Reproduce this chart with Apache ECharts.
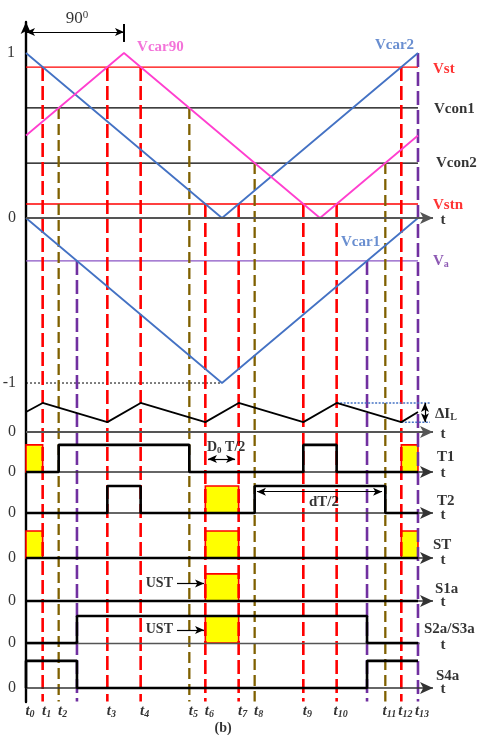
<!DOCTYPE html>
<html>
<head>
<meta charset="utf-8">
<script src="https://cdn.jsdelivr.net/npm/echarts@6/dist/echarts.min.js"></script>
<style>
  html, body { margin: 0; padding: 0; background: #fff; }
  #chart { width: 477px; height: 735px; }
</style>
</head>
<body>
<div id="chart"></div>
<script>
// ---- switching instants, in degrees of one carrier period ----
const tNames    = ['0','1','2','3','4','5','6','7','8','9','10','11','12','13'];
const tInstants = [0, 15.3, 30, 74.7, 105.3, 150, 164.7, 195.3, 210, 254.7, 285.3, 330, 344.7, 360];
const vaCross   = [46.8, 313.2];          // Vcar1 crossing the reference Va

// ---- carriers: [angle, value] vertices ----
const vcar2  = [[0, 1], [180, 0], [360, 1]];
const vcar90 = [[0, 0.5], [90, 1], [270, 0], [360, 0.5]];
const vcar1  = [[0, 0], [180, -1], [360, 0]];

// ---- reference levels ----
const vst = 0.915, vcon1 = 0.667, vcon2 = 0.333, vstn = 0.085, va = -0.26;

// ---- inductor current (per unit of its ripple peak) ----
const ilAngles = [0, 15.3, 74.7, 105.3, 164.7, 195.3, 254.7, 285.3, 344.7, 360];
const ilValues = [0.69, 1, 0.34, 1, 0.34, 1, 0.34, 1, 0.34, 0.69];

// ---- gate signals: on-intervals and shoot-through intervals ----
const T1on  = [[30, 150], [254.7, 285.3]];
const T1st  = [[0, 15.3], [344.7, 360]];
const T2on  = [[74.7, 105.3], [210, 330]];
const T2st  = [[164.7, 195.3]];
const STst  = [[0, 15.3], [164.7, 195.3], [344.7, 360]];
const S1on  = [];
const S1st  = [[164.7, 195.3]];
const S2on  = [[46.8, 313.2]];
const S2st  = [[164.7, 195.3]];
const S4on  = [[0, 46.8], [313.2, 360]];

// ---- panel layout (vertical offset and height, in carrier units) ----
const P = {
  il: { base: -1.297, h: 0.176 },
  T1: { base: -1.539, h: 0.164 },
  T2: { base: -1.788, h: 0.164 },
  ST: { base: -2.061, h: 0.164 },
  S1: { base: -2.321, h: 0.164 },
  S2: { base: -2.576, h: 0.164 },
  S4: { base: -2.848, h: 0.164 }
};
const X_MAX = 414.2, Y_MIN = -2.9333, Y_MAX = 1.188, AX_END = 373.8, BOTTOM = -2.93;

const RED = '#ff0000', BROWN = '#7f6000', PURPLE = '#7030a0', BLUE = '#4472c4', PINK = '#ff3fcf';
const SERIF = '"Liberation Serif", "Times New Roman", serif';

function line(data, color, width, type, z) {
  return { type: 'line', data, symbol: 'none', silent: true, animation: false,
           lineStyle: { color, width, type: type || 'solid' }, z: z || 2 };
}

// builds the corner points of a two-level pulse train
function pulsePath(on, panel, end) {
  const b = panel.base, h = panel.base + panel.h;
  const pts = [[0, b]];
  on.forEach(([a, c]) => {
    pts.push([a, b], [a, h], [c, h]);
    if (c < end) pts.push([c, b]);
  });
  const last = pts[pts.length - 1];
  if (last[0] < end) pts.push([end, last[1]]);
  return pts;
}

function pulseSeries(on, st, panel) {
  const s = line(pulsePath(on, panel, 360), '#000', 2.6, 'solid', 6);
  s.markArea = {
    silent: true,
    itemStyle: { color: '#ffff00', borderColor: RED, borderWidth: 1.6 },
    data: st.map(([a, c]) => [{ coord: [a, panel.base] }, { coord: [c, panel.base + panel.h] }])
  };
  return s;
}

function rich(color, size, italic, weight) {
  const st = italic ? 'italic' : 'normal';
  const w = weight || 'bold';
  return {
    m: { color, fontFamily: SERIF, fontWeight: w, fontStyle: st, fontSize: size, lineHeight: size + 2 },
    s: { color, fontFamily: SERIF, fontWeight: w, fontStyle: st, fontSize: Math.round(size * 0.66),
         lineHeight: 6, verticalAlign: 'bottom' },
    u: { color, fontFamily: SERIF, fontWeight: 'normal', fontSize: Math.round(size * 0.62),
         lineHeight: 6, verticalAlign: 'top' }
  };
}
function txt(x, y, fmt, o) {
  o = o || {};
  const color = o.color || '#000', size = o.size || 15;
  return {
    value: [x, y],
    label: {
      show: true, formatter: fmt, position: o.pos || 'right', distance: o.dist || 0,
      offset: o.off || [0, 0], color, fontFamily: SERIF, fontSize: size,
      rich: rich(color, size, o.italic, o.weight)
    }
  };
}

const series = [];

// reference levels
series.push(line([[0, vst], [360, vst]], RED, 1.3));
series.push(line([[0, vcon1], [360, vcon1]], '#000', 1.3));
series.push(line([[0, vcon2], [360, vcon2]], '#000', 1.3));
series.push(line([[0, vstn], [360, vstn]], RED, 1.3));
series.push(line([[0, va], [360, va]], '#8a55c4', 1.3));
series.push(line([[0, -1], [180, -1]], '#000', 1, [2, 2]));

// vertical guides at the switching instants
const guides = [
  [tInstants[1], vst, RED], [tInstants[2], vcon1, BROWN], [vaCross[0], va, PURPLE],
  [tInstants[3], vst, RED], [tInstants[4], vst, RED], [tInstants[5], vcon1, BROWN],
  [tInstants[6], vstn, RED], [tInstants[7], vstn, RED], [tInstants[8], vcon2, BROWN],
  [tInstants[9], vstn, RED], [tInstants[10], vstn, RED], [vaCross[1], va, PURPLE],
  [tInstants[11], vcon2, BROWN], [tInstants[12], vst, RED], [tInstants[13], 1, PURPLE]
];
guides.forEach(([x, from, c]) => {
  const dash = c === BROWN ? [11, 5] : [14, 5];
  series.push(line([[x, from], [x, BOTTOM]], c, c === BROWN ? 2.3 : 2.6, dash, 3));
});

// carriers
series.push(line(vcar2, BLUE, 1.8, 'solid', 4));
series.push(line(vcar90, PINK, 1.8, 'solid', 4));
series.push(line(vcar1, BLUE, 1.8, 'solid', 4));

// inductor current and its ripple marks
const ilPk = P.il.base + P.il.h, ilVal = P.il.base + 0.34 * P.il.h;
series.push(line(ilAngles.map((a, i) => [a, P.il.base + ilValues[i] * P.il.h]), '#000', 1.8, 'solid', 5));
series.push(line([[285.3, ilPk], [371, ilPk]], BLUE, 1.5, [2, 1.5], 4));
series.push(line([[344.7, ilVal], [371, ilVal]], BLUE, 1.5, [2, 1.5], 4));

// gate signals
series.push(pulseSeries(T1on, T1st, P.T1));
series.push(pulseSeries(T2on, T2st, P.T2));
series.push(pulseSeries([], STst, P.ST));
series.push(pulseSeries(S1on, S1st, P.S1));
series.push(pulseSeries(S2on, S2st, P.S2));
series.push(pulseSeries(S4on, [], P.S4));

// time axes with arrows
function markLines(items, color, width, symbol, size, z) {
  return {
    type: 'line', data: [], silent: true, animation: false, z: z || 5,
    markLine: {
      silent: true, animation: false, symbol, symbolSize: size,
      label: { show: false }, emphasis: { disabled: true },
      lineStyle: { color, width, type: 'solid' },
      data: items.map(([x1, y1, x2, y2]) => [{ coord: [x1, y1] }, { coord: [x2, y2] }])
    }
  };
}
series.push(markLines([[0, 0, AX_END, 0], [0, P.il.base, AX_END, P.il.base]], '#555', 2, ['none', 'arrow'], [9, 13], 5));
series.push(markLines([
  [0, P.T1.base, AX_END, P.T1.base], [0, P.T2.base, AX_END, P.T2.base],
  [0, P.ST.base, AX_END, P.ST.base], [0, P.S1.base, AX_END, P.S1.base],
  [0, P.S4.base, AX_END, P.S4.base]
], '#333', 1.6, ['none', 'arrow'], [9, 13], 5));
series.push(markLines([[0, P.S2.base, 361.5, P.S2.base]], '#555', 1.3, ['none', 'none'], 1, 5));

// dimension arrows
series.push(markLines([
  [0, 1.127, 90, 1.127],
  [167.1, -1.461, 192, -1.461],
  [212.1, -1.659, 327, -1.659],
  [366.4, ilPk, 366.4, ilVal]
], '#000', 1.2, ['arrow', 'arrow'], [6, 9], 7));
series.push(markLines([
  [138.7, -2.215, 163.5, -2.215],
  [138.7, -2.497, 163.5, -2.497]
], '#000', 1.2, ['none', 'arrow'], [6, 9], 7));
series.push(line([[90, 1.176], [90, 1.067]], '#000', 2, 'solid', 7));

// text
const labels = [];
labels.push(txt(46.8, 1.206, '{m|90}{u|0}', { pos: 'inside', size: 17, weight: 'normal' }));
labels.push(txt(102, 1.036, '{m|Vcar90}', { color: '#f050d0' }));
labels.push(txt(320.5, 1.048, '{m|Vcar2}', { color: BLUE }));
labels.push(txt(289.3, -0.145, '{m|Vcar1}', { color: BLUE }));
labels.push(txt(373.8, 0.903, '{m|Vst}', { color: RED }));
labels.push(txt(374.7, 0.66, '{m|Vcon1}'));
labels.push(txt(376.5, 0.333, '{m|Vcon2}'));
labels.push(txt(373.8, 0.079, '{m|Vstn}', { color: RED }));
labels.push(txt(373.8, -0.26, '{m|V}{s|a}', { color: PURPLE }));
labels.push(txt(375.6, -1.188, '{m|ΔI}{s|L}'));
labels.push(txt(377.4, -1.448, '{m|T1}'));
labels.push(txt(377.4, -1.715, '{m|T2}'));
labels.push(txt(373.8, -1.982, '{m|ST}'));
labels.push(txt(375.6, -2.248, '{m|S1a}'));
labels.push(txt(365.5, -2.491, '{m|S2a/S3a}'));
labels.push(txt(376.5, -2.776, '{m|S4a}'));
[0, P.il.base, P.T1.base, P.T2.base, P.ST.base, P.S1.base, P.S2.base, P.S4.base].forEach(b => {
  labels.push(txt(383, b - 0.01, '{m|t}', { pos: 'inside' }));
});
// vertical scale marks
labels.push(txt(0, 1, '{m|1}', { pos: 'left', dist: 11, size: 16, weight: 'normal' }));
labels.push(txt(0, -1, '{m|-1}', { pos: 'left', dist: 10, size: 16, weight: 'normal' }));
[0, P.il.base, P.T1.base, P.T2.base, P.ST.base, P.S1.base, P.S2.base, P.S4.base].forEach(b => {
  labels.push(txt(0, b, '{m|0}', { pos: 'left', dist: 10, size: 16, weight: 'normal' }));
});
// annotations
labels.push(txt(166.2, -1.391, '{m|D}{s|0}{m| T/2}', { size: 14 }));
labels.push(txt(273.7, -1.724, '{m|dT/2}', { pos: 'inside' }));
labels.push(txt(135, -2.215, '{m|UST}', { pos: 'left', size: 14 }));
labels.push(txt(135, -2.494, '{m|UST}', { pos: 'left', size: 14 }));
// time instants
tInstants.forEach((x, i) => {
  labels.push(txt(x, -2.99, '{m|t}{s|' + tNames[i] + '}', { pos: 'inside', italic: true, off: [4, 0] }));
});
labels.push(txt(181, -3.094, '{m|(b)}', { pos: 'inside', size: 14 }));

series.push({
  type: 'scatter', data: labels, symbolSize: 0, silent: true, animation: false, clip: false, z: 10
});

const chart = echarts.init(document.getElementById('chart'));
chart.setOption({
  animation: false,
  backgroundColor: '#fff',
  grid: { left: 26, top: 22, width: 451, height: 680, containLabel: false },
  xAxis: { type: 'value', min: 0, max: X_MAX, show: false },
  yAxis: {
    type: 'value', min: Y_MIN, max: Y_MAX,
    axisLine: { show: true, symbol: ['none', 'arrow'], symbolSize: [8, 12], lineStyle: { color: '#000', width: 2.4 } },
    axisTick: { show: false }, axisLabel: { show: false }, splitLine: { show: false }
  },
  series
});
</script>
</body>
</html>
